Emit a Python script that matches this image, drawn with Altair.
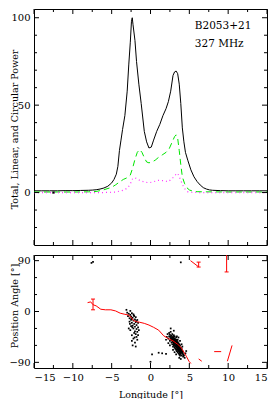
import altair as alt
import pandas as pd

# ---------------- data ----------------
lon_I = [-15, -14, -13, -12, -11, -10, -9, -8, -7.5, -7, -6.5, -6, -5.5, -5, -4.7, -4.4, -4.2,
         -4.0, -3.8, -3.6, -3.3, -3.0, -2.8, -2.6, -2.45, -2.35, -2.25, -2.0, -1.8, -1.5, -1.2,
         -0.8, -0.5, -0.2, 0.1, 0.4, 0.8, 1.2, 1.6, 2.0, 2.3, 2.6, 2.9, 3.1, 3.3, 3.5, 3.7, 3.9,
         4.1, 4.3, 4.5, 4.8, 5.2, 5.6, 6.0, 6.4, 6.8, 7.2, 7.6, 8, 9, 10, 11, 12, 13, 14, 15]
tot_I = [1.0, 1.0, 1.0, 1.0, 1.1, 1.1, 1.2, 1.3, 1.4, 1.6, 2.0, 2.6, 3.6, 5.5, 7.5, 10.5, 15,
         24, 30, 36, 44, 58, 73, 86, 98, 100, 96, 87, 75, 62, 51,
         35, 29, 25.5, 26, 30, 35, 39, 44, 48, 52, 58, 67, 69, 69.5, 68, 62, 51,
         37, 29, 23, 18.5, 13, 9, 6.3, 4.3, 2.8, 2.0, 1.5, 1.3, 1.1, 1.0, 1.0, 1.0, 1.0, 1.0, 1.0]

lon_L = [-15, -12, -10, -8, -7, -6, -5, -4.5, -4, -3.5, -3, -2.6, -2.3, -2.0, -1.7, -1.4, -1.1,
         -0.8, -0.5, -0.2, 0.2, 0.6, 1.0, 1.5, 2.0, 2.4, 2.8, 3.1, 3.3, 3.5, 3.7, 3.9, 4.1, 4.4,
         4.7, 5.0, 5.5, 6, 7, 8, 10, 12, 15]
lin_L = [0.3, 0.3, 0.3, 0.4, 0.6, 1.6, 3, 4.4, 6, 7.5, 8.5, 10, 14, 19, 23, 24.6, 23,
         20, 17.5, 17, 17.5, 18.5, 20, 21.5, 23, 25, 29, 32, 33, 31, 24, 16, 9, 5,
         2.7, 1.5, 0.7, 0.5, 0.4, 0.4, 0.3, 0.3, 0.3]

lon_V = [-15, -10, -6, -4.5, -3.5, -3, -2.65, -2.3, -2.0, -1.4, -0.8, -0.2, 0.4, 1.0, 1.6,
         2.3, 2.9, 3.3, 3.5, 3.8, 4.3, 4.75, 5.2, 6, 8, 10, 15]
circ_V = [0, 0, 0, 0.3, 1.3, 2.5, 4.4, 8, 8.5, 7, 6, 5.6, 6.2, 7, 6.8,
          6.2, 8.5, 10.5, 11, 8, 2.7, 0.5, 0.2, 0, 0, 0, 0]

noise_lon = [-12.5]
noise_val = [0]

pa_lon = [-8.1, -7.7, -7.4, -7.0, -6.4, -5.8, -5.1, -4.5, -3.9, -3.3, -2.9, -2.5, -2.2, -1.8,
          -1.4, -0.8, -0.2, 0.4, 1.05, 1.7, 2.3, 2.9, 3.5, 3.9, 4.3, 4.6, 4.95, 5.2,
          5.15, 6.2,
          6.2, 6.6,
          8.2, 9.1,
          9.9, 10.5]
pa_val = [15.7, 17, 12, 10, 4, 3, 3, 1, -3, -5, -6, -10, -16, -18,
          -19, -21, -24, -28, -33, -43, -48, -52, -58, -63, -72, -79, -88, -92,
          90, 79,
          -84, -88,
          -71, -71,
          -88, -60]
pa_seg = [0] * 28 + [1, 1, 2, 2, 3, 3, 4, 4]

eb_lon = [-7.4, 6.2, 9.8]
eb_lo = [3, 78.7, 70]
eb_hi = [22, 87.4, 104]

dot_lon = [2.1, 2.2, 2.3, 2.4, 2.4, 2.5, 2.5, 2.6, 2.6, 2.7, 2.7, 2.7, 2.8, 2.8, 2.8, 2.9, 2.9,
           2.9, 2.9, 3.0, 3.0, 3.0, 3.0, 3.0, 3.1, 3.1, 3.1, 3.1, 3.1, 3.2, 3.2, 3.2, 3.2, 3.2,
           3.3, 3.3, 3.3, 3.3, 3.3, 3.3, 3.4, 3.4, 3.4, 3.4, 3.4, 3.5, 3.5, 3.5, 3.5, 3.5, 3.5,
           3.6, 3.6, 3.6, 3.6, 3.6, 3.7, 3.7, 3.7, 3.7, 3.7, 3.8, 3.8, 3.8, 3.8, 3.8, 3.9, 3.9,
           3.9, 4.0, 4.0, 4.0, 4.1, 4.1, 4.2, 4.2, 4.3, 4.4, 3.0, 2.6, 3.4, 3.8, 4.1, 2.3, 2.9,
           3.3, 3.7, 4.5, 2.0, 3.6, 4.0, 2.5, 3.1, 3.9,
           3.05, 3.25, 3.45, 3.65, 3.15, 3.35, 3.55, 3.75, 2.85, 2.95, 3.85, 3.95,
           2.75, 2.95, 3.15, 3.35, 3.55, 3.75, 3.95, 2.65, 3.05, 3.45, 3.85, 4.15,
           3.25, 3.5, 3.7, 3.2, 3.4, 3.6, 2.8, 3.0, 3.95, 4.05,
           2.9, 3.1, 3.3, 3.5, 3.7, 3.9, 3.0, 3.2, 3.4, 3.6, 3.8, 2.7, 4.0, 3.15, 3.45,
           3.75, 3.35, 3.55, 2.55, 4.25,
           -3.0, -2.9, -2.8, -2.7, -2.6, -2.5, -2.5, -2.4, -2.4, -2.3, -2.3, -2.2, -2.2, -2.1,
           -2.1, -2.0, -2.0, -2.0, -1.9, -1.9, -1.9, -1.8, -1.8, -1.8, -1.7, -1.7, -1.7, -1.6,
           -1.6, -2.4, -2.6, -2.2, -2.0, -2.3, -2.1, -2.5, -2.7, -1.6, -2.8, -2.4, -1.9, -2.2,
           -2.6, -3.1, -1.5, -2.45, -2.15, -1.85, -2.65, -2.35, -2.05,
           -7.6, -7.4, 3.9, 0.2, 1.05, 1.5, 0.0, 2.0, 4.6]
dot_pa = [-45, -40, -48, -38, -44, -52, -41, -47, -36, -43, -55, -50, -46, -40, -58, -52, -48,
          -44, -62, -55, -50, -46, -42, -60, -53, -57, -48, -64, -44, -56, -52, -60, -49, -66,
          -58, -54, -62, -50, -46, -68, -60, -56, -64, -52, -70, -62, -58, -66, -54, -72, -50,
          -64, -60, -68, -56, -74, -66, -62, -70, -58, -76, -68, -64, -72, -60, -78, -70, -66,
          -75, -72, -68, -78, -74, -70, -80, -76, -78, -82, -34, -30, -44, -52, -62, -56, -68,
          -76, -82, -74, -50, -46, -58, -60, -72, -84,
          -51, -55, -59, -63, -57, -61, -65, -69, -49, -53, -67, -71,
          -47, -51, -55, -59, -63, -67, -71, -43, -57, -63, -69, -73,
          -53, -59, -65, -61, -58, -62, -52, -57, -66, -70,
          -54, -50, -62, -60, -64, -73, -58, -55, -67, -70, -75, -49, -65, -61, -55,
          -72, -64, -68, -45, -77,
          -2, -8, -4, -12, -6, -15, -9, -20, -3, -11, -25, -16, -30, -8,
          -22, -14, -35, -27, -19, -40, -10, -24, -31, -45, -15, -36, -50, -28,
          -20, -42, -33, -48, -55, -60, -38, -26, -18, -42, -30, -52, -62, -5,
          1, 3, -33, -13, -7, -17, -22, -28, -46,
          86, 88, 87, -76, -73, -74, -89, -75, -70]

ann_text = ["B2053+21", "327 MHz"]
ann_lon = [5.7, 5.7]
ann_val = [95, 85]

x_major = [-15, -10, -5, 0, 5, 10, 15]
x_minor = [-12.5, -7.5, -2.5, 2.5, 7.5, 12.5]
y1_major = [0, 50, 100]
y1_minor = [-20, -10, 10, 20, 30, 40, 60, 70, 80, 90]
y2_major = [-90, 0, 90]
y2_minor = [-60, -30, 30, 60]

# ---------------- layout ----------------
W = 233
H1 = 236
H2 = 113
SERIF = "DejaVu Serif"

xs = alt.Scale(domain=[-15, 15], nice=False, zero=False)
ys1 = alt.Scale(domain=[-30, 105], nice=False, zero=False)
ys2 = alt.Scale(domain=[-100, 100], nice=False, zero=False)


def frame_ticks(H, xaxis, ys, yaxis, ymaj, ymin):
    layers = []
    for vals, L in [(x_major, 5), (x_minor, 3)]:
        d = pd.DataFrame({"lon": vals})
        b = alt.Chart(d).mark_rule(color="black", strokeWidth=1)
        layers.append(b.encode(x=alt.X("lon:Q", scale=xs, axis=xaxis),
                               y=alt.value(H), y2=alt.value(H - L)))
        layers.append(b.encode(x=alt.X("lon:Q", scale=xs, axis=xaxis),
                               y=alt.value(0), y2=alt.value(L)))
    for vals, L in [(ymaj, 5), (ymin, 3)]:
        d = pd.DataFrame({"val": vals})
        b = alt.Chart(d).mark_rule(color="black", strokeWidth=1)
        layers.append(b.encode(y=alt.Y("val:Q", scale=ys, axis=yaxis),
                               x=alt.value(0), x2=alt.value(L)))
        layers.append(b.encode(y=alt.Y("val:Q", scale=ys, axis=yaxis),
                               x=alt.value(W), x2=alt.value(W - L)))
    return layers


# ---------------- top panel ----------------
dI = pd.DataFrame({"lon": lon_I, "val": tot_I})
dL = pd.DataFrame({"lon": lon_L, "val": lin_L})
dV = pd.DataFrame({"lon": lon_V, "val": circ_V})
dN = pd.DataFrame({"lon": noise_lon, "val": noise_val})
dA = pd.DataFrame({"lon": ann_lon, "val": ann_val, "t": ann_text})

yaxis1 = alt.Axis(values=y1_major, title="Total, Linear, and Circular Power",
                  labelPadding=4, titleX=-15, titleY=H1 / 2 + 2, titleAngle=270,
                  titleBaseline="bottom", titleAlign="center")

X1 = alt.X("lon:Q", scale=xs, axis=None)
Y1 = alt.Y("val:Q", scale=ys1, axis=yaxis1)
lineI = alt.Chart(dI).mark_line(color="black", strokeWidth=1).encode(x=X1, y=Y1)
lineL = alt.Chart(dL).mark_line(color="#00e600", strokeWidth=1, strokeDash=[6, 4]).encode(
    x=X1, y=Y1)
lineV = alt.Chart(dV).mark_line(color="#ff33ff", strokeWidth=1.2, strokeDash=[1, 3]).encode(
    x=X1, y=Y1)
noise = alt.Chart(dN).mark_square(color="black", size=5, opacity=1).encode(x=X1, y=Y1)
ann = alt.Chart(dA).mark_text(align="left", baseline="middle", font=SERIF, fontSize=10.5,
                              color="black").encode(x=X1, y=Y1, text="t:N")

top = alt.layer(lineI, lineL, lineV, noise, ann,
                *frame_ticks(H1, None, ys1, yaxis1, y1_major, y1_minor)
                ).properties(width=W, height=H1)

# ---------------- bottom panel ----------------
dP = pd.DataFrame({"lon": pa_lon, "pa": pa_val, "seg": pa_seg})
dE = pd.DataFrame({"lon": eb_lon, "pa": eb_lo, "hi": eb_hi})
dE2 = pd.DataFrame({"lon": eb_lon, "pa": eb_hi})
dD = pd.DataFrame({"lon": dot_lon, "pa": dot_pa})

xaxis2 = alt.Axis(values=x_major, title="Longitude [°]", labelPadding=4, titlePadding=7)
yaxis2 = alt.Axis(values=y2_major, title="Position Angle [°]",
                  labelPadding=4, titleX=-15, titleY=H2 / 2 - 6, titleAngle=270,
                  titleBaseline="bottom", titleAlign="center")

X2 = alt.X("lon:Q", scale=xs, axis=xaxis2)
Y2 = alt.Y("pa:Q", scale=ys2, axis=yaxis2)
dots = alt.Chart(dD).mark_square(color="black", size=3, opacity=1, clip=True).encode(
    x=X2, y=Y2)
paline = alt.Chart(dP).mark_line(color="#ff0000", strokeWidth=1, clip=True).encode(
    x=X2, y=Y2, detail="seg:N")
ebar = alt.Chart(dE).mark_rule(color="#ff0000", strokeWidth=1, clip=True).encode(
    x=X2, y=Y2, y2="hi:Q")
cap_lo = alt.Chart(dE).mark_rule(color="#ff0000", strokeWidth=1, clip=True,
                                 xOffset=-2, x2Offset=2).encode(x=X2, x2="lon:Q", y=Y2)
cap_hi = alt.Chart(dE2).mark_rule(color="#ff0000", strokeWidth=1, clip=True,
                                  xOffset=-2, x2Offset=2).encode(x=X2, x2="lon:Q", y=Y2)

bottom = alt.layer(dots, paline, ebar, cap_lo, cap_hi,
                   *frame_ticks(H2, xaxis2, ys2, yaxis2, y2_major, y2_minor)
                   ).properties(width=W, height=H2)

chart = alt.vconcat(top, bottom, spacing=8).properties(
    padding={"left": 0, "top": 0, "right": 0, "bottom": 0},
    background="white"
).configure_view(stroke="black", strokeWidth=1).configure_axis(
    domain=False, ticks=False, grid=False,
    labelFont=SERIF, labelFontSize=10, labelColor="black",
    titleFont=SERIF, titleFontSize=9.5, titleFontWeight="normal", titleColor="black"
)

chart.save("out.html", embed_options={"renderer": "svg", "actions": False})
